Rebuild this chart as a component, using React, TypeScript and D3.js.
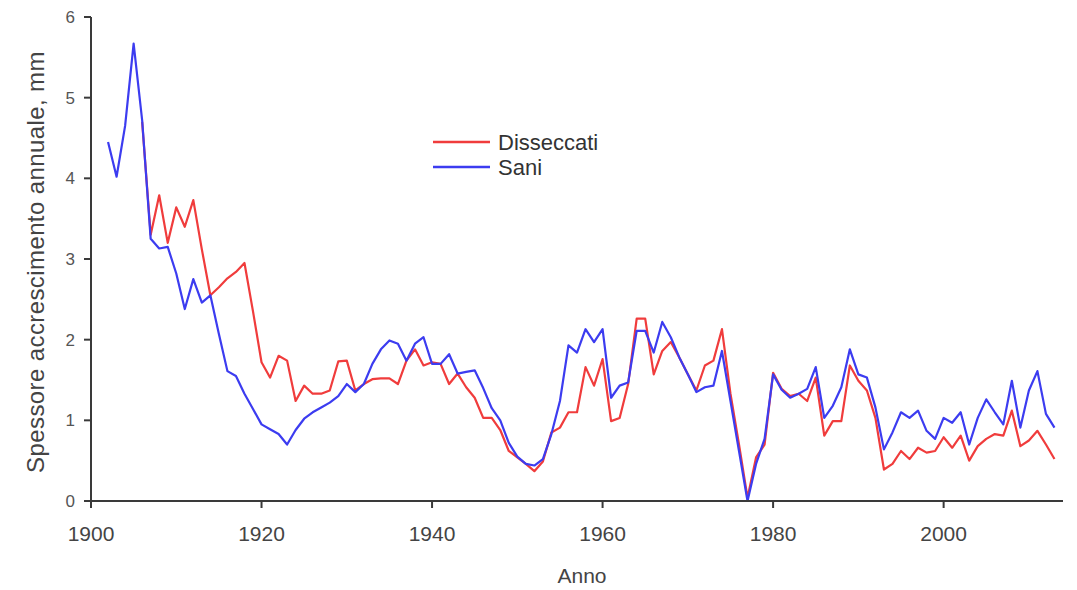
import React from "react"
import * as d3 from "d3"

// anni e spessori
const anniDisseccati = d3.range(1906, 2014)
const disseccati = [
  4.7, 3.3, 3.79, 3.2, 3.64, 3.4, 3.73, 3.12, 2.55, 2.65,
  2.76, 2.84, 2.95, 2.35, 1.72, 1.53, 1.8, 1.74, 1.24, 1.43,
  1.33, 1.33, 1.37, 1.73, 1.74, 1.37, 1.45, 1.51, 1.52, 1.52,
  1.45, 1.74, 1.88, 1.68, 1.72, 1.7, 1.45, 1.58, 1.41, 1.28,
  1.03, 1.03, 0.88, 0.62, 0.54, 0.46, 0.37, 0.49, 0.85, 0.91,
  1.1, 1.1, 1.66, 1.43, 1.76, 0.99, 1.03, 1.45, 2.26, 2.26,
  1.57, 1.86, 1.97, 1.78, 1.57, 1.37, 1.68, 1.74, 2.13, 1.33,
  0.7, 0.04, 0.54, 0.7, 1.59, 1.39, 1.3, 1.33, 1.24, 1.53,
  0.81, 0.99, 0.99, 1.68, 1.49, 1.37, 1.03, 0.39, 0.46, 0.62,
  0.52, 0.66, 0.6, 0.62, 0.79, 0.66, 0.81, 0.5, 0.68, 0.77,
  0.83, 0.81, 1.12, 0.68, 0.75, 0.87, 0.7, 0.52
]

const anniSani = d3.range(1902, 2014)
const sani = [
  4.45, 4.02, 4.65, 5.67, 4.72, 3.25, 3.13, 3.15, 2.82, 2.38,
  2.75, 2.46, 2.55, 2.07, 1.61, 1.55, 1.33, 1.14, 0.95, 0.89,
  0.83, 0.7, 0.88, 1.02, 1.1, 1.16, 1.22, 1.3, 1.45, 1.35,
  1.45, 1.7, 1.88, 1.99, 1.95, 1.74, 1.95, 2.03, 1.7, 1.7,
  1.82, 1.58, 1.6, 1.62, 1.4, 1.15, 1.0, 0.72, 0.55, 0.46,
  0.44, 0.52, 0.83, 1.24, 1.93, 1.84, 2.13, 1.97, 2.13, 1.28,
  1.43, 1.47, 2.11, 2.11, 1.84, 2.22, 2.03, 1.78, 1.57, 1.35,
  1.41, 1.43, 1.86, 1.24, 0.62, 0.0, 0.46, 0.77, 1.57, 1.38,
  1.28, 1.33, 1.39, 1.66, 1.03, 1.18, 1.41, 1.88, 1.57, 1.53,
  1.16, 0.64, 0.85, 1.1, 1.03, 1.12, 0.87, 0.77, 1.03, 0.97,
  1.1, 0.7, 1.03, 1.26, 1.1, 0.95, 1.49, 0.91, 1.37, 1.61,
  1.08, 0.91
]

const xTicks = [1900, 1920, 1940, 1960, 1980, 2000]
const yTicks = [0, 1, 2, 3, 4, 5, 6]
const serie = [
  { nome: "Disseccati", anni: anniDisseccati, valori: disseccati, colore: "#f03c3c" },
  { nome: "Sani", anni: anniSani, valori: sani, colore: "#3c3cf0" }
]

const W = 1077
const H = 590

const App = () => {
  const x = d3.scaleLinear().domain([1900, 2014]).range([91, 1063])
  const y = d3.scaleLinear().domain([0, 6]).range([501, 17])
  const axisColor = "#3a3a3a"
  const font = "'Liberation Sans', Arial, sans-serif"

  return (
    <svg
      width={W}
      height={H}
      style={{ position: "absolute", left: 0, top: 0, background: "#fff" }}
      fontFamily={font}
    >
      {serie.map(s => {
        const line = d3
          .line<number>()
          .x((_, i) => x(s.anni[i]))
          .y(d => y(d))
        return (
          <path
            key={s.nome}
            d={line(s.valori) || ""}
            fill="none"
            stroke={s.colore}
            strokeWidth={2.2}
            strokeLinejoin="round"
          />
        )
      })}

      {/* asse y */}
      <line x1={x(1900)} x2={x(1900)} y1={y(6)} y2={y(0)} stroke={axisColor} strokeWidth={2} />
      {yTicks.map(t => (
        <g key={t}>
          <line x1={x(1900) - 7} x2={x(1900)} y1={y(t)} y2={y(t)} stroke={axisColor} strokeWidth={2} />
          <text x={75} y={y(t)} dy="0.35em" textAnchor="end" fontSize={17} fill="#555">
            {t}
          </text>
        </g>
      ))}

      {/* asse x */}
      <line x1={x(1900) - 7} x2={x(2014)} y1={y(0)} y2={y(0)} stroke={axisColor} strokeWidth={2} />
      {xTicks.map(t => (
        <g key={t}>
          <line x1={x(t)} x2={x(t)} y1={y(0)} y2={y(0) + 7} stroke={axisColor} strokeWidth={2} />
          <text x={x(t)} y={541} textAnchor="middle" fontSize={21} fill="#444">
            {t}
          </text>
        </g>
      ))}

      <text x={582} y={583} textAnchor="middle" fontSize={21} fill="#444">
        Anno
      </text>
      <text
        transform={`translate(44, 262) rotate(-90)`}
        textAnchor="middle"
        fontSize={24}
        fill="#444"
        letterSpacing={0.4}
      >
        Spessore accrescimento annuale, mm
      </text>

      {/* legenda */}
      {serie.map((s, i) => (
        <g key={s.nome} transform={`translate(433, ${142 + i * 25})`}>
          <line x1={0} x2={57} y1={0} y2={0} stroke={s.colore} strokeWidth={2.5} />
          <text x={65} y={0} dy="0.35em" fontSize={22} fill="#333">
            {s.nome}
          </text>
        </g>
      ))}
    </svg>
  )
}

export default App
